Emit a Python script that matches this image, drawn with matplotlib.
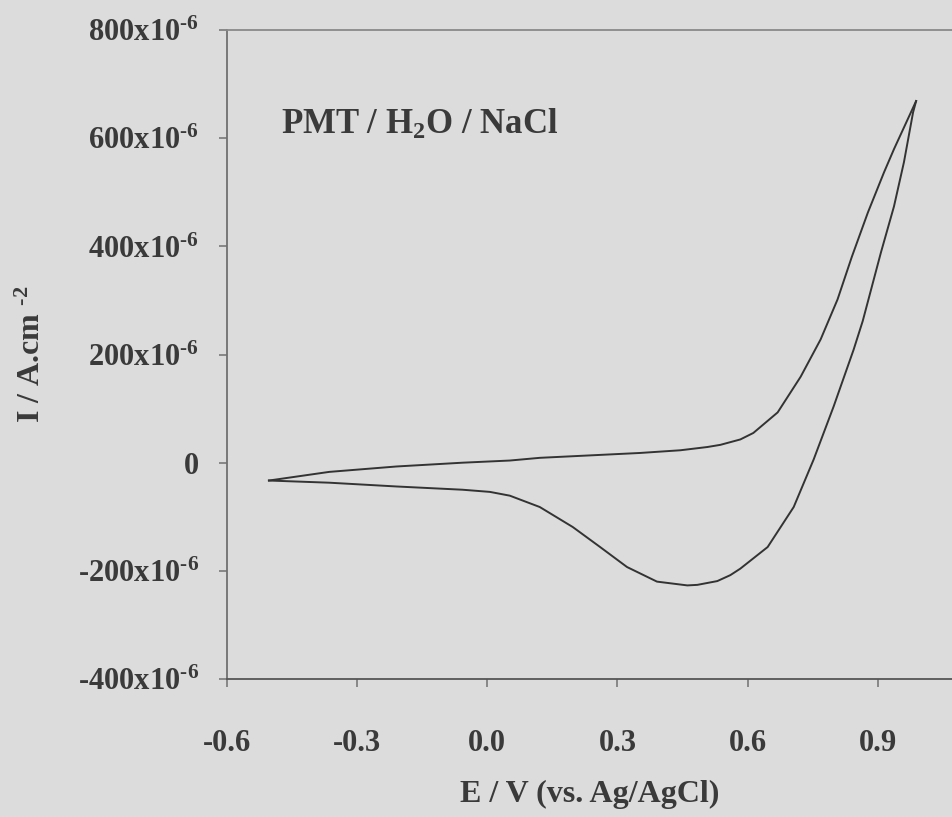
import matplotlib
matplotlib.use('Agg')
import matplotlib.pyplot as plt
from matplotlib.ticker import FixedLocator, FixedFormatter

plt.rcParams['font.family'] = 'Liberation Serif'
plt.rcParams['font.weight'] = 'bold'
plt.rcParams['axes.labelweight'] = 'bold'
plt.rcParams['mathtext.fontset'] = 'custom'
plt.rcParams['mathtext.rm'] = 'Liberation Serif:bold'
plt.rcParams['mathtext.it'] = 'Liberation Serif:bold'
plt.rcParams['mathtext.bf'] = 'Liberation Serif:bold'

# cyclic voltammogram (E in V, I in A/cm2)
# forward sweep: -0.5 V -> 0.99 V
E_fwd = [-0.503, -0.364, -0.209, -0.057, 0.052, 0.121, 0.352, 0.445, 0.507, 0.537,
         0.583, 0.613, 0.669, 0.722, 0.768, 0.807, 0.840, 0.877, 0.914, 0.937, 0.988]
I_fwd = [-33e-6, -17e-6, -7e-6, 0e-6, 4e-6, 9e-6, 18e-6, 23e-6, 29e-6, 33e-6,
         43e-6, 55e-6, 93e-6, 159e-6, 228e-6, 302e-6, 381e-6, 463e-6, 537e-6,
         580e-6, 669e-6]
# reverse sweep: 0.99 V -> -0.5 V
E_rev = [0.988, 0.981, 0.960, 0.937, 0.907, 0.865, 0.844, 0.798, 0.752, 0.706,
         0.646, 0.583, 0.560, 0.530, 0.484, 0.461, 0.391, 0.322, 0.260, 0.197,
         0.121, 0.052, 0.006, -0.057, -0.209, -0.364, -0.503]
I_rev = [669e-6, 648e-6, 556e-6, 474e-6, 389e-6, 262e-6, 209e-6, 104e-6, 6e-6,
         -82e-6, -156e-6, -196e-6, -208e-6, -219e-6, -226e-6, -227e-6, -220e-6,
         -193e-6, -156e-6, -119e-6, -82e-6, -61e-6, -54e-6, -50e-6, -44e-6,
         -37e-6, -33e-6]

x_ticks = [-0.6, -0.3, 0.0, 0.3, 0.6, 0.9]
x_labels = ['-0.6', '-0.3', '0.0', '0.3', '0.6', '0.9']
y_ticks = [-400e-6, -200e-6, 0, 200e-6, 400e-6, 600e-6, 800e-6]
y_labels = [r'-400x10$^{\text{-}6}$', r'-200x10$^{\text{-}6}$', '0',
            r'200x10$^{\text{-}6}$', r'400x10$^{\text{-}6}$',
            r'600x10$^{\text{-}6}$', r'800x10$^{\text{-}6}$']

bg = '#dcdcdc'
txt = '#3a3a3a'

fig = plt.figure(figsize=(9.53, 8.17), dpi=100, facecolor=bg)
ax = fig.add_axes([0.238, 0.169, 0.762, 0.794])
ax.set_facecolor(bg)

ax.plot(E_fwd, I_fwd, color='#333333', lw=1.4)
ax.plot(E_rev, I_rev, color='#333333', lw=1.4)

ax.set_xlim(-0.6, 1.073)
ax.set_ylim(-400e-6, 800e-6)
ax.xaxis.set_major_locator(FixedLocator(x_ticks))
ax.xaxis.set_major_formatter(FixedFormatter(x_labels))
ax.yaxis.set_major_locator(FixedLocator(y_ticks))
ax.yaxis.set_major_formatter(FixedFormatter(y_labels))

ax.spines['right'].set_visible(False)
ax.spines['left'].set_color('#707070')
ax.spines['bottom'].set_color('#555555')
ax.spines['top'].set_color('#8a8a8a')
for s in ['left', 'bottom', 'top']:
    ax.spines[s].set_linewidth(1.3)

ax.tick_params(axis='both', direction='out', length=6, width=1.1, color='#707070',
               labelsize=22, labelcolor=txt)
ax.tick_params(axis='x', pad=30)
ax.tick_params(axis='y', pad=14)

ax.set_xlabel('E / V (vs. Ag/AgCl)', fontsize=23, color=txt, labelpad=16)
ax.set_ylabel(r'I / A.cm $^{\text{-}2}$', fontsize=23, color=txt, labelpad=22)

ax.text(0.075, 0.84, 'PMT / H$_2$O / NaCl', transform=ax.transAxes,
        fontsize=25, color=txt)

plt.savefig('out.png', dpi=100, facecolor=bg)
